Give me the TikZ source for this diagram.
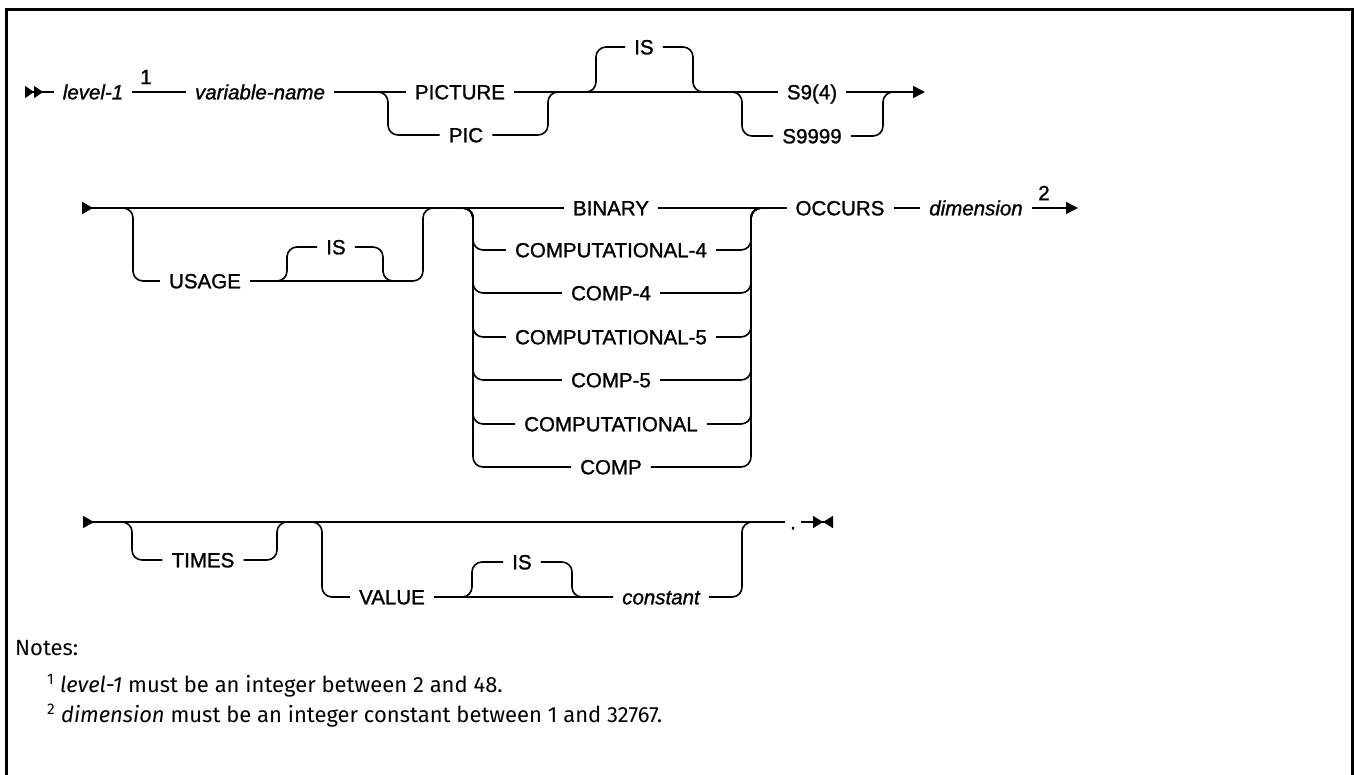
\documentclass[tikz,border=0pt]{standalone}
\usepackage{fontspec}
\setmainfont{Liberation Sans}[FakeBold=1.2]
\newfontfamily\notefont{Fira Sans}
\usetikzlibrary{arrows.meta,calc}

\begin{document}
\begin{tikzpicture}[x=1pt,y=-1pt,>={Triangle[length=12pt,width=12pt]},
  rail/.style={line width=1.6pt},
  rc/.style={rail,rounded corners=10pt},
  kw/.style={inner xsep=9pt,inner ysep=0pt,text height=14.6pt,text depth=0pt,
    font=\fontsize{20.5}{24}\selectfont},
  vr/.style={kw,font=\fontsize{20.5}{24}\selectfont\itshape},
  sup/.style={inner sep=0pt,font=\fontsize{20.5}{24}\selectfont},
  note/.style={inner sep=0pt,anchor=base west,font=\notefont\fontsize{22}{26}\selectfont},
  dblstart/.style={{Triangle[length=9pt,width=12pt,reversed]Triangle[length=9pt,width=12pt,reversed]}-},
  sglstart/.style={{Triangle[length=11pt,width=12pt,reversed]}-},
  stopend/.style={-{Triangle[length=10pt,width=12pt]Triangle[length=10pt,width=12pt,reversed]}}]
 \useasboundingbox (0,0) rectangle (1354,774);
 \draw[line width=3pt] (6.5,9) rectangle (1352.5,800);
 % first line
 \coordinate (s1) at (25,92);
 \node[vr] (lev) at (93,92) {level-1};
 \node[sup] (fn1) at (146,77) {1};
 \node[vr] (vname) at (260,92) {variable-name};
 \node[kw] (pict) at (460,92) {PICTURE};
 \node[kw] (pic) at (466,135) {PIC};
 \node[kw] (is1) at (644,47) {IS};
 \node[kw] (s94) at (812,92) {S9(4)};
 \node[kw] (s99) at (812,136) {S9999};
 \coordinate (pa) at (388,92);
 \coordinate (pb) at (548,92);
 \coordinate (ia) at (596,92);
 \coordinate (ib) at (693,92);
 \coordinate (sa) at (742,92);
 \coordinate (sb) at (883,92);
 \coordinate (sc) at (900,92);
 \coordinate (e1) at (925,92);
 \draw[rail,dblstart] (s1) -- (lev);
 \draw[rail] (lev) -- (vname);
 \draw[rail] (vname) -- (pict);
 \draw[rail] (pict) -- (s94);
 \draw[rail,->] (s94) -- (e1);
 \draw[rc] (vname) -- (pa) |- (pic);
 \draw[rc] (pic) -| (pb) -- (s94);
 \draw[rc] (pict) -- (ia) |- (is1);
 \draw[rc] (is1) -| (ib) -- (s94);
 \draw[rc] (pict) -- (sa) |- (s99);
 \draw[rc] (s99) -| (sb) -- (sc);
 % second line
 \coordinate (s2) at (82,208);
 \node[kw] (usage) at (205,281) {USAGE};
 \node[kw] (is2) at (336,247) {IS};
 \node[kw] (bin) at (611,208) {BINARY};
 \node[kw] (occ) at (840,208) {OCCURS};
 \node[vr] (dim) at (976,208) {dimension};
 \node[sup] (fn2) at (1044,193) {2};
 \coordinate (ua) at (133,208);
 \coordinate (ub) at (423,208);
 \coordinate (ic) at (287,281);
 \coordinate (id) at (383,281);
 \coordinate (ie) at (400,281);
 \coordinate (ca) at (473,208);
 \coordinate (cb) at (751,208);
 \coordinate (e2) at (1078,208);
 \draw[rail,sglstart] (s2) -- (bin);
 \draw[rc] (s2) -- (ua) |- (usage);
 \draw[rc] (usage) -| (ub) -- (bin);
 \draw[rc] (usage) -- (ic) |- (is2);
 \draw[rc] (is2) -| (id) -- (ie);
 \foreach \nm/\txt/\yy in {c4/COMPUTATIONAL-4/250,p4/COMP-4/293,c5/COMPUTATIONAL-5/337,
   p5/COMP-5/380,cc/COMPUTATIONAL/424,pp/COMP/467}{
   \node[kw] (\nm) at (611,\yy) {\txt};
   \draw[rc] (ub) -- (ca) |- (\nm);
   \draw[rc] (\nm) -| (cb) -- (occ);
 }
 \draw[rail] (bin) -- (occ);
 \draw[rail] (occ) -- (dim);
 \draw[rail,->] (dim) -- (e2);
 % third line
 \coordinate (s3) at (83,522);
 \node[kw] (times) at (203,560) {TIMES};
 \node[kw] (value) at (392,597) {VALUE};
 \node[kw] (is3) at (522,562) {IS};
 \node[vr] (const) at (661,597) {constant};
 \node[kw,inner xsep=5pt] (dot) at (793,522) {.};
 \coordinate (ta) at (132,522);
 \coordinate (tb) at (277,522);
 \coordinate (va) at (322,522);
 \coordinate (vb) at (742,522);
 \coordinate (ja) at (472,597);
 \coordinate (jb) at (572,597);
 \coordinate (e3) at (833,522);
 \draw[rail,sglstart] (s3) -- (dot);
 \draw[rc] (s3) -- (ta) |- (times);
 \draw[rc] (times) -| (tb) -- (dot);
 \draw[rc] (s3) -- (va) |- (value);
 \draw[rail] (value) -- (const);
 \draw[rc] (const) -| (vb) -- (dot);
 \draw[rc] (value) -- (ja) |- (is3);
 \draw[rc] (is3) -| (jb) -- (const);
 \draw[rail,stopend] (dot) -- (e3);
 % notes
 \node[note] (notes) at (15,655) {Notes:};
 \node[note] (nt1) at (47,692) {\textsuperscript{1} \textit{level-1} must be an integer between 2 and 48.};
 \node[note] (nt2) at (47,722) {\textsuperscript{2} \textit{dimension} must be an integer constant between 1 and 32767.};
\end{tikzpicture}
\end{document}
